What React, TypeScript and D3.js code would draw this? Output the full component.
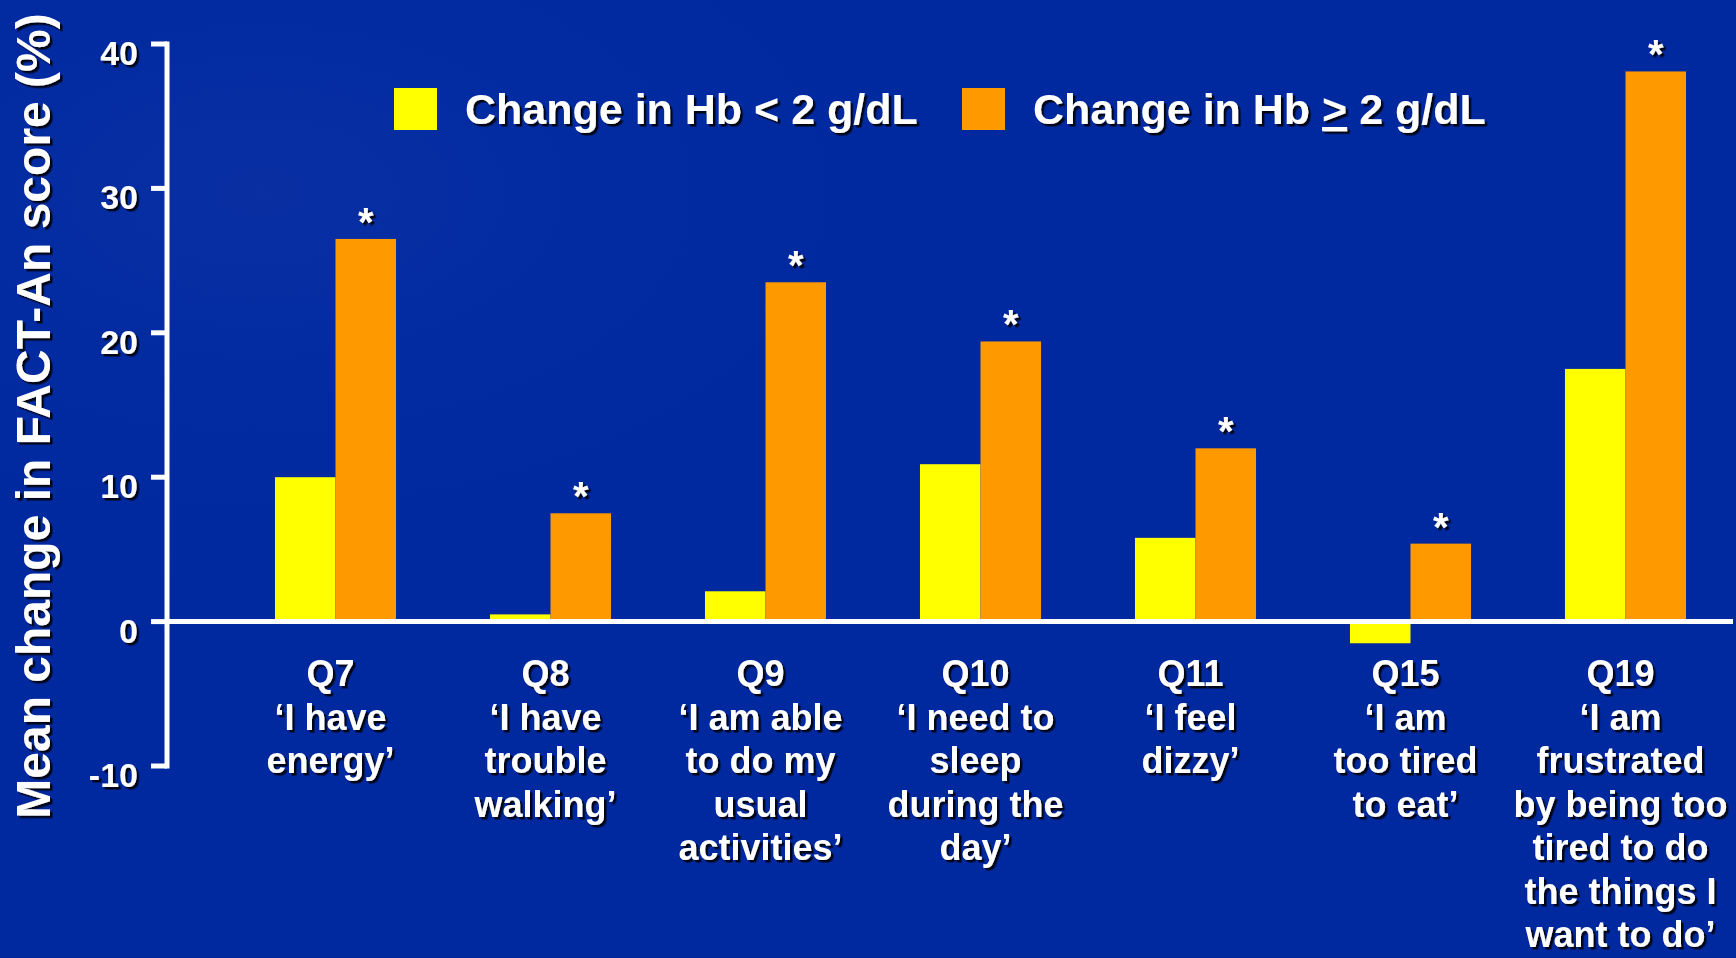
import React from 'react';
import * as d3 from 'd3';

// FACT-An item changes by haemoglobin response
const categories = ['Q7', 'Q8', 'Q9', 'Q10', 'Q11', 'Q15', 'Q19'];
const itemText = [
  ['‘I have', 'energy’'],
  ['‘I have', 'trouble', 'walking’'],
  ['‘I am able', 'to do my', 'usual', 'activities’'],
  ['‘I need to', 'sleep', 'during the', 'day’'],
  ['‘I feel', 'dizzy’'],
  ['‘I am', 'too tired', 'to eat’'],
  ['‘I am', 'frustrated', 'by being too', 'tired to do', 'the things I', 'want to do’'],
];
const hbBelow2 = [10.0, 0.5, 2.1, 10.9, 5.8, -1.5, 17.5];
const hbAtLeast2 = [26.5, 7.5, 23.5, 19.4, 12.0, 5.4, 38.1];
const significant = [true, true, true, true, true, true, true];
const yTicks = [-10, 0, 10, 20, 30, 40];
const seriesKeys = ['below', 'atLeast'];
const legendItems = [
  { pre: 'Change in Hb ', sym: '<', post: ' 2 g/dL', underline: false },
  { pre: 'Change in Hb ', sym: '>', post: ' 2 g/dL', underline: true },
];

const W = 1736;
const H = 958;
const FONT = '"Liberation Sans", Arial, Helvetica, sans-serif';
const BG = '#0029a0';
const colors = ['#ffff00', '#ff9900'];

export default function App() {
  const x = d3.scaleBand().domain(categories).range([228, 1733]).paddingInner(0.437).paddingOuter(0.2185);
  const xs = d3.scaleBand().domain(seriesKeys).range([0, x.bandwidth()]).padding(0);
  const y = d3.scaleLinear().domain([-10, 40]).range([766, 44]);
  const axisX = 167;

  const rows = categories.map((c, i) => ({ cat: c, vals: [hbBelow2[i], hbAtLeast2[i]] }));

  return (
    <div style={{ position: 'absolute', left: 0, top: 0, width: W, height: H, overflow: 'hidden' }}>
      <svg width={W} height={H} style={{ display: 'block' }} fontFamily={FONT} fontWeight="bold">
        <defs>
          <filter id="shadow" x="-10%" y="-10%" width="120%" height="130%">
            <feDropShadow dx="2.5" dy="2.5" stdDeviation="0.4" floodColor="#000" floodOpacity="0.85" />
          </filter>
          <radialGradient id="mottle" cx="0.15" cy="0.2" r="0.45">
            <stop offset="0%" stopColor="#1a3aa8" stopOpacity="0.35" />
            <stop offset="100%" stopColor={BG} stopOpacity="0" />
          </radialGradient>
        </defs>
        <rect width={W} height={H} fill={BG} />
        <rect width={W} height={H} fill="url(#mottle)" />

        {/* bars */}
        {rows.map((r) => (
          <g key={r.cat} transform={`translate(${x(r.cat)},0)`}>
            {r.vals.map((v, j) => (
              <rect
                key={j}
                x={xs(seriesKeys[j])}
                y={Math.min(y(v), y(0))}
                width={xs.bandwidth()}
                height={Math.abs(y(v) - y(0))}
                fill={colors[j]}
              />
            ))}
          </g>
        ))}

        {/* zero line */}
        <line x1={axisX} x2={1733} y1={y(0)} y2={y(0)} stroke="#fff" strokeWidth={5} />

        {/* y axis */}
        <line x1={axisX} x2={axisX} y1={y(40) - 2.5} y2={y(-10) + 2.5} stroke="#fff" strokeWidth={5} />
        {yTicks.map((t) => (
          <line key={t} x1={151} x2={axisX} y1={y(t)} y2={y(t)} stroke="#fff" strokeWidth={5} />
        ))}
        <g filter="url(#shadow)" fill="#fff">
          {yTicks.map((t) => (
            <text key={t} x={138} y={y(t) + 9} textAnchor="end" dominantBaseline="central" fontSize={34}>
              {t}
            </text>
          ))}
          <text transform="translate(50,416) rotate(-90)" textAnchor="middle" fontSize={48}>
            Mean change in FACT-An score (%)
          </text>

          {/* significance markers */}
          {rows.map((r, i) =>
            significant[i] ? (
              <text
                key={r.cat}
                x={x(r.cat)! + xs('atLeast')! + xs.bandwidth() / 2}
                y={y(r.vals[1]) - 3}
                textAnchor="middle"
                fontSize={40}
              >
                *
              </text>
            ) : null
          )}

          {/* category labels */}
          {rows.map((r, i) => {
            const cx = x(r.cat)! + x.bandwidth() / 2 - 5;
            return (
              <text key={r.cat} x={cx} y={686} textAnchor="middle" fontSize={36}>
                {[r.cat, ...itemText[i]].map((line, k) => (
                  <tspan key={k} x={cx} dy={k === 0 ? 0 : 43.5}>
                    {line}
                  </tspan>
                ))}
              </text>
            );
          })}
        </g>

        {/* legend */}
        {legendItems.map((it, i) => {
          const lx = i === 0 ? 394 : 962;
          return (
            <g key={i}>
              <rect x={lx} y={88} width={43} height={42} fill={colors[i]} />
              <text x={lx + 71} y={124} fontSize={43} fill="#fff" filter="url(#shadow)">
                {it.pre}
                <tspan textDecoration={it.underline ? 'underline' : 'none'}>{it.sym}</tspan>
                {it.post}
              </text>
            </g>
          );
        })}
      </svg>
    </div>
  );
}
